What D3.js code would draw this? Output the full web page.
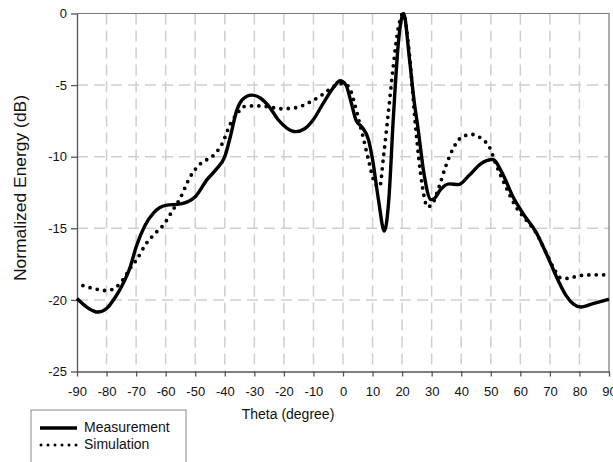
<!DOCTYPE html>
<html>
<head>
<meta charset="utf-8">
<script src="https://cdn.jsdelivr.net/npm/d3@7"></script>
<style>
  body { margin: 0; background: #fff; }
  text { font-family: "Liberation Sans", Arial, sans-serif; fill: #111; }
</style>
</head>
<body>
<svg id="chart" width="613" height="462"></svg>
<script>
// measured curve (theta in degree, energy in dB)
var measTheta = [-90, -86, -83, -80, -77, -75, -72, -70, -67, -64, -60, -55, -50, -46, -43, -40, -38, -36, -34, -31,
    -28, -25, -22, -19, -16, -13, -10, -6.5, -3, -1, 1, 2.5, 4.5, 6.3, 8.6, 10, 12, 14, 15.5, 17,
    18.8, 20.5, 22.5, 24, 25.5, 27.4, 29.8, 31, 33, 36, 39, 42.7, 46.6, 50.6, 54, 57.5, 61, 65.4, 69.3, 72.7,
    75.5, 78, 80.5, 84, 90];
var measDb = [-19.9, -20.6, -20.85, -20.6, -19.8, -19.1, -17.7, -16.3, -14.8, -13.9, -13.4, -13.3, -12.8, -11.6, -10.9, -10.0, -8.5, -6.8, -6.0, -5.7,
    -5.9, -6.5, -7.4, -8.0, -8.25, -8.05, -7.4, -6.2, -5.1, -4.7, -5.0, -6.0, -7.5, -7.9, -8.8, -10.2, -13.0, -15.2, -13.0, -7.4,
    -1.9, 0, -3.2, -6.0, -8.2, -11.2, -13.0, -12.9, -12.3, -11.9, -11.95, -11.3, -10.5, -10.2, -11.2, -12.8, -14.0, -15.3, -17.0, -18.6,
    -19.7, -20.3, -20.5, -20.3, -19.95];

// simulated curve
var simTheta = [-88, -84.5, -80, -77, -74.5, -71.7, -70, -66.7, -63.3, -60.5, -57.8, -55.1, -51.7, -48.3, -43.8, -40.9, -38.1, -35.8, -33.6, -30,
    -25.7, -21, -16.6, -13.3, -10, -6.5, -3.2, -0.3, 2, 3.6, 5.3, 7, 8.6, 10.9, 12.4, 13.7, 15.3, 17, 18.8, 20.3,
    22.3, 24.6, 26.8, 28.6, 30.2, 32.5, 34.7, 37.6, 40.4, 43.8, 47.2, 49.5, 51.7, 55.1, 58.5, 61.9, 65.3, 68.7, 71.6, 73.5,
    76, 80, 85, 90];
var simDb = [-19.0, -19.2, -19.35, -19.15, -18.6, -17.7, -17.25, -16.1, -15.3, -14.7, -13.8, -12.9, -11.4, -10.5, -9.9, -9.1, -7.7, -7.0, -6.5, -6.45,
    -6.5, -6.65, -6.6, -6.4, -6.05, -5.6, -5.1, -4.9, -5.1, -6.05, -7.4, -8.8, -10.2, -11.9, -12.1, -10.0, -7.0, -3.7, -0.9, 0,
    -2.5, -8.0, -12.0, -13.5, -13.3, -12.1, -10.7, -9.3, -8.6, -8.45, -8.8, -9.3, -10.5, -12.1, -13.5, -14.4, -15.3, -16.7, -17.9, -18.45,
    -18.5, -18.3, -18.25, -18.25];

var xTicks = [-90, -80, -70, -60, -50, -40, -30, -20, -10, 0, 10, 20, 30, 40, 50, 60, 70, 80, 90];
var yTicks = [0, -5, -10, -15, -20, -25];

var svg = d3.select("#chart"),
    margin = { top: 13.5, right: 4, bottom: 90.5, left: 77 },
    width = +svg.attr("width") - margin.left - margin.right,
    height = +svg.attr("height") - margin.top - margin.bottom;

var g = svg.append("g")
    .attr("transform", "translate(" + margin.left + "," + margin.top + ")");

var x = d3.scaleLinear().domain([-90, 90]).range([0, width]);
var y = d3.scaleLinear().domain([-25, 0]).range([height, 0]);

// dashed grid
g.append("g").selectAll("line")
    .data(xTicks.slice(1, -1))
    .enter().append("line")
    .attr("x1", function (d) { return x(d); })
    .attr("x2", function (d) { return x(d); })
    .attr("y1", 0).attr("y2", height)
    .attr("stroke", "#cfcfcf").attr("stroke-width", 1.5)
    .attr("stroke-dasharray", "11,6");

g.append("g").selectAll("line")
    .data(yTicks.slice(1, -1))
    .enter().append("line")
    .attr("y1", function (d) { return y(d); })
    .attr("y2", function (d) { return y(d); })
    .attr("x1", 0).attr("x2", width)
    .attr("stroke", "#cfcfcf").attr("stroke-width", 1.5)
    .attr("stroke-dasharray", "11,6");

// frame top / right
g.append("path")
    .attr("d", "M0,0H" + width + "V" + height)
    .attr("fill", "none").attr("stroke", "#777").attr("stroke-width", 1.2);

// axes (plain hyphen for negatives, like the original)
var fmt = function (d) { return String(d); };
var xAxis = g.append("g")
    .attr("transform", "translate(0," + height + ")")
    .call(d3.axisBottom(x).tickValues(xTicks).tickFormat(fmt).tickSize(5).tickPadding(10).tickSizeOuter(0));
var yAxis = g.append("g")
    .call(d3.axisLeft(y).tickValues(yTicks).tickFormat(fmt).tickSize(6).tickPadding(4).tickSizeOuter(0));

[xAxis, yAxis].forEach(function (a) {
    a.select(".domain").attr("stroke", "#555").attr("stroke-width", 1.3);
    a.selectAll(".tick line").attr("stroke", "#555").attr("stroke-width", 1.3);
    a.selectAll(".tick text")
        .style("font-family", "'Liberation Sans', Arial, sans-serif")
        .style("font-size", "13px").attr("fill", "#111");
});

// curves
var line = d3.line()
    .x(function (d) { return x(d[0]); })
    .y(function (d) { return y(d[1]); })
    .curve(d3.curveMonotoneX);

var sim = d3.zip(simTheta, simDb);
var meas = d3.zip(measTheta, measDb);

g.append("path")
    .datum(sim)
    .attr("d", line)
    .attr("fill", "none")
    .attr("stroke", "#000")
    .attr("stroke-width", 3.8)
    .attr("stroke-linecap", "round")
    .attr("stroke-dasharray", "0,7.4");

g.append("path")
    .datum(meas)
    .attr("d", line)
    .attr("fill", "none")
    .attr("stroke", "#000")
    .attr("stroke-width", 3.4)
    .attr("stroke-linejoin", "round");

// axis titles
svg.append("text")
    .attr("x", 288).attr("y", 415)
    .attr("text-anchor", "middle")
    .attr("dominant-baseline", "middle")
    .style("font-size", "14px")
    .text("Theta (degree)");

svg.append("text")
    .attr("transform", "translate(22,188) rotate(-90)")
    .attr("text-anchor", "middle")
    .attr("dominant-baseline", "middle")
    .attr("textLength", 186)
    .attr("lengthAdjust", "spacingAndGlyphs")
    .style("font-size", "16px")
    .text("Normalized Energy (dB)");

// legend
var legend = svg.append("g");
legend.append("rect")
    .attr("x", 31).attr("y", 410)
    .attr("width", 155).attr("height", 70)
    .attr("fill", "#fff").attr("stroke", "#888").attr("stroke-width", 1);

legend.append("line")
    .attr("x1", 40).attr("x2", 77).attr("y1", 428).attr("y2", 428)
    .attr("stroke", "#000").attr("stroke-width", 3.5);
legend.append("line")
    .attr("x1", 41).attr("x2", 78).attr("y1", 445).attr("y2", 445)
    .attr("stroke", "#000").attr("stroke-width", 3)
    .attr("stroke-linecap", "round").attr("stroke-dasharray", "0,7");

legend.append("text").attr("x", 84).attr("y", 428)
    .attr("dominant-baseline", "middle").style("font-size", "14px")
    .text("Measurement");
legend.append("text").attr("x", 84).attr("y", 445)
    .attr("dominant-baseline", "middle").style("font-size", "14px")
    .text("Simulation");
</script>
</body>
</html>
